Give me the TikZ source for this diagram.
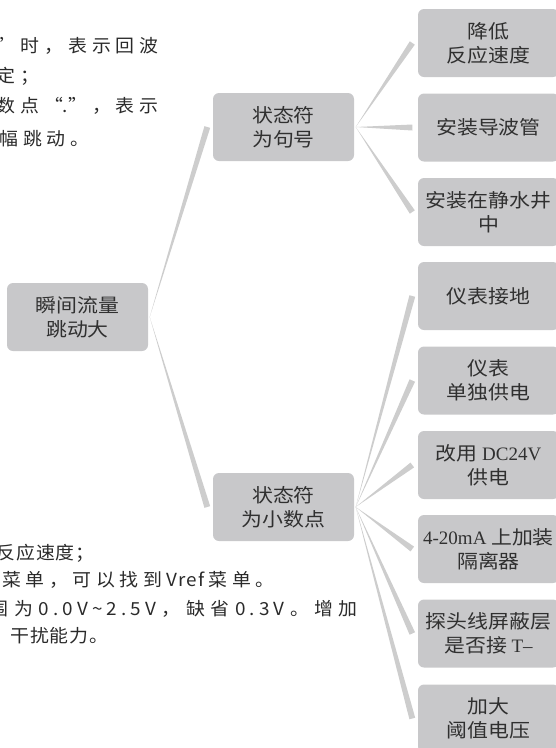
\documentclass[tikz,border=0pt]{standalone}
\usepackage{fontspec}
\usetikzlibrary{calc}
\newfontfamily\cjk[FakeStretch=1.1]{Noto Sans CJK SC}
\newfontfamily\lat{Liberation Serif}
\newfontfamily\ltx[FakeStretch=1.05]{Noto Sans CJK SC}
\newcommand\lsp[2]{{\addfontfeature{LetterSpace=#1}#2}}
\newcommand\gapA{\hspace{5pt}}
\newcommand\gapB{\hspace{4.6pt}}
\newcommand\gapC{\hspace{5.5pt}}
\newcommand\gapD{\hspace{1pt}}
\definecolor{boxgray}{HTML}{C8C8CA}
\definecolor{linegray}{HTML}{CDCDCD}
\definecolor{txt}{HTML}{303030}
\definecolor{sidetxt}{HTML}{2A2A2A}
\newcommand\brwedge[2]{%
  \path ($(#1.east)+(1.5,0)$) coordinate (wp) ($(#2.west)+(-5.5,0)$) coordinate (wc);
  \fill[linegray] (wp) -- ($(wc)!3pt!90:(wp)$) -- ($(wc)!3pt!-90:(wp)$) -- cycle;}
\begin{document}
\begin{tikzpicture}[x=1pt,y=-1pt,
  box/.style={rectangle, rounded corners=6pt, fill=boxgray, minimum width=141pt,
    minimum height=68pt, inner sep=0pt, align=center, text=txt,
    font=\cjk\fontsize{19}{24}\selectfont},
  side/.style={inner sep=0pt, text=sidetxt, font=\ltx\fontsize{18}{20}\selectfont}]
\useasboundingbox (0,0) rectangle (556,748);
\clip (0,0) rectangle (556,748);
% side texts
\node[side, anchor=east] (t1) at (159,46) {”\gapA 时\gapA ，\gapA 表\gapA 示\gapA 回\gapA 波};
\node[side, anchor=east] (t2) at (40,76) {定\gapA ；};
\node[side, anchor=east] (t3) at (159,106) {数\gapA 点\gapA “.”\gapA ，\gapA 表\gapA 示};
\node[side, anchor=east] (t4) at (90,139) {幅\gapA 跳\gapA 动\gapA 。};
\node[side, anchor=east] (s1) at (95,553) {反\gapD 应\gapD 速\gapD 度\gapD ；};
\node[side, anchor=east] (s2) at (275,580) {菜\gapB 单\gapB ，\gapB 可\gapB 以\gapB 找\gapB 到\gapB \lsp{6}{Vref}\gapB 菜\gapB 单\gapB 。};
\node[side, anchor=east] (s3) at (358,609) {围\gapC 为\gapC \lsp{23}{0.0V{\char"007E\relax}2.5V}\gapC ，\gapC 缺\gapC 省\gapC \lsp{23}{0.3V}\gapC 。\gapC 增\gapC 加};
\node[side, anchor=west] (s4) at (10,636) {干\gapD 扰\gapD 能\gapD 力\gapD 。};
% boxes
\node[box] (root) at (77.5,317) {瞬间流量\\跳动大};
\node[box] (a) at (283.5,127) {状态符\\为句号};
\node[box] (b) at (283.5,507) {状态符\\为小数点};
\node[box] (a1) at (488.5,43) {降低\\反应速度};
\node[box] (a2) at (488.5,127.5) {安装导波管};
\node[box] (a3) at (488.5,212) {安装在静水井\\中};
\node[box] (b1) at (488.5,296) {仪表接地};
\node[box] (b2) at (488.5,380.5) {仪表\\单独供电};
\node[box] (b3) at (488.5,465) {改用 {\lat DC24V}\\供电};
\node[box] (b4) at (488.5,549) {{\lat 4-20mA} 上加装\\隔离器};
\node[box] (b5) at (488.5,633.5) {探头线屏蔽层\\是否接 {\lat T–}};
\node[box] (b6) at (488.5,718.5) {加大\\阈值电压};
% connectors
\brwedge{root}{a}
\brwedge{root}{b}
\brwedge{a}{a1}
\brwedge{a}{a2}
\brwedge{a}{a3}
\brwedge{b}{b1}
\brwedge{b}{b2}
\brwedge{b}{b3}
\brwedge{b}{b4}
\brwedge{b}{b5}
\brwedge{b}{b6}
\end{tikzpicture}
\end{document}
